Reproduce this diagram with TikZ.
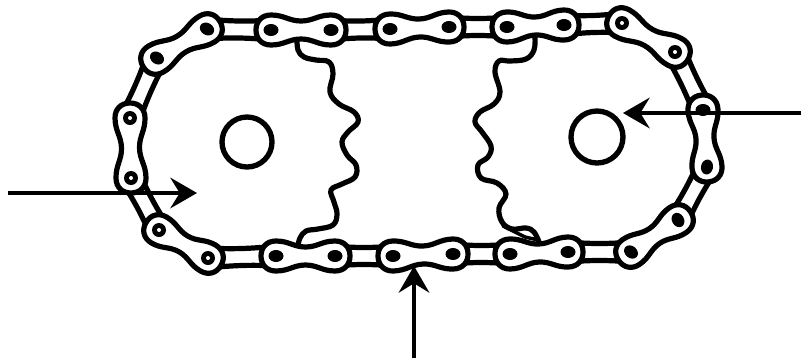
\documentclass[tikz,border=0pt]{standalone}
\usetikzlibrary{arrows.meta}
\tikzset{
  x=0.75pt,y=-0.75pt,
  ink/.style={line width=3.9pt,draw=black,line join=round,line cap=round},
  hub/.style={draw=black,line width=4pt,fill=white},
  pointer/.style={draw=black,line width=2.6pt,-{Stealth[length=20pt,width=23pt,inset=7pt]}},
}
\newcommand{\RR}{15}
\newcommand{\WW}{9}
\begin{document}
\begin{tikzpicture}
\useasboundingbox (0,0) rectangle (808,362);
% sprockets
\draw[ink] plot[smooth,tension=0.65] coordinates {(297,38)(298,50)(304,57)(316,60)(329,62)(333,74)(330,92)(339,104)(354,112)(358,122)(348,132)(342,142)(347,155)(356,165)(355,177)(342,184)(331,190)(334,202)(337,214)(333,225)(318,229)(306,231)(300,238)(298,246)};
\draw[ink] plot[smooth,tension=0.65] coordinates {(535,36)(534,50)(526,59)(510,61)(499,61)(495,72)(500,92)(494,104)(480,112)(475,122)(482,132)(491,146)(488,157)(478,165)(481,178)(497,183)(506,194)(499,208)(502,222)(512,229)(526,228)(534,232)(539,242)};
\draw[ink,line width=2.6pt] (503,226) -- (525,237) -- (538,240);
\draw[hub] (247,142) circle (25);
\draw[hub] (597,137) circle (26);
% thin links
\foreach \xa/\ya/\xb/\yb in {130/118/156/59, 207/29/271/30, 331/30/390/29, 449/27/507/27, 564/25/622/23, 675/52/703/110, 707/167/678/220, 631/252/568/252, 510/254/453/254, 393/256/335/256, 276/256/208/258, 159/230/131/178}{
  \pgfmathsetmacro\ang{atan2(\ya-\yb,\xb-\xa)}
  \pgfmathsetmacro\len{veclen(\xb-\xa,\yb-\ya)}
  \begin{scope}[shift={(\xa,\ya)},rotate=\ang]
    \draw[ink,fill=white] (0,10) .. controls (0.35*\len,8) and (0.65*\len,8) .. (\len,10)
      -- (\len,-10) .. controls (0.65*\len,-8) and (0.35*\len,-8) .. (0,-10) -- cycle;
  \end{scope}
}
% outer plates
\foreach \xa/\ya/\xb/\yb in {130/118/131/178, 156/59/207/29, 271/30/331/30, 390/29/449/27, 507/27/564/25, 622/23/675/52, 703/110/707/167, 678/220/631/252, 568/252/510/254, 453/254/393/256, 335/256/276/256, 208/258/159/230}{
  \pgfmathsetmacro\ang{atan2(\ya-\yb,\xb-\xa)}
  \pgfmathsetmacro\len{veclen(\xb-\xa,\yb-\ya)}
  \begin{scope}[shift={(\xa,\ya)},rotate=\ang]
    \draw[ink,fill=white] (-\RR,0) .. controls (-\RR,0.6*\RR) and (-0.6*\RR,\RR) .. (0,\RR)
      .. controls (0.22*\len,\RR) and (0.3*\len,\WW) .. (0.5*\len,\WW)
      .. controls (0.7*\len,\WW) and (0.78*\len,\RR) .. (\len,\RR)
      .. controls (\len+0.6*\RR,\RR) and (\len+\RR,0.6*\RR) .. (\len+\RR,0)
      .. controls (\len+\RR,-0.6*\RR) and (\len+0.6*\RR,-\RR) .. (\len,-\RR)
      .. controls (0.78*\len,-\RR) and (0.7*\len,-\WW) .. (0.5*\len,-\WW)
      .. controls (0.3*\len,-\WW) and (0.22*\len,-\RR) .. (0,-\RR)
      .. controls (-0.6*\RR,-\RR) and (-\RR,-0.6*\RR) .. (-\RR,0) -- cycle;
  \end{scope}
}
% solid pins
\foreach \x/\y/\r in {157/58/-35, 207/29/-30, 271/30/0, 331/30/0, 390/29/0, 449/27/0, 507/27/0, 564/25/0, 707/167/80, 678/220/-60, 631/252/-40, 568/252/0, 510/254/0, 453/254/0, 393/256/0, 335/256/0, 276/256/0, 703/110/0}{
  \fill[black,rotate around={\r:(\x,\y)}] (\x,\y) ellipse (7.5 and 6);
}
% ringed pins
\foreach \x/\y in {130/118, 131/178, 159/230, 208/258, 622/23, 675/52}{
  \fill[black] (\x,\y) circle (7);
  \fill[white] (\x,\y) circle (2);
}
% arrows
\coordinate (leftstart) at (8,193);
\coordinate (lefttip) at (197,193);
\coordinate (rightstart) at (801,113);
\coordinate (righttip) at (623,113);
\coordinate (bottomstart) at (414,358);
\coordinate (bottomtip) at (414,266);
\draw[pointer] (leftstart) -- (lefttip);
\draw[pointer] (rightstart) -- (righttip);
\draw[pointer] (bottomstart) -- (bottomtip);
\end{tikzpicture}
\end{document}
